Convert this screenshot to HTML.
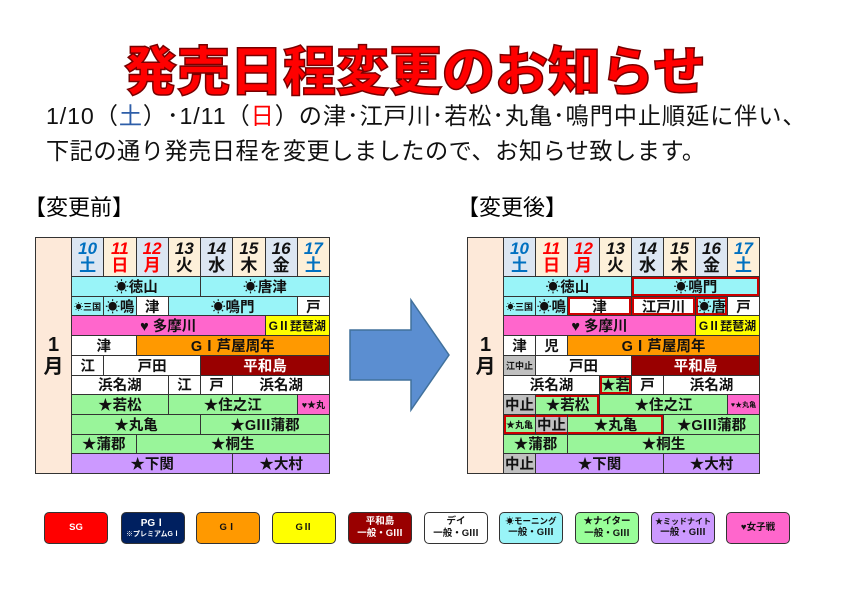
<!DOCTYPE html>
<html><head><meta charset="utf-8"><style>
*{margin:0;padding:0;box-sizing:border-box}
body{width:842px;height:595px;background:#fff;position:relative;overflow:hidden;font-family:"Liberation Sans","Noto Sans CJK JP",sans-serif}
.abs{position:absolute;white-space:nowrap}
.title{left:124px;top:30px;font-size:53px;font-weight:900;color:#f00;-webkit-text-stroke:1.5px #700;font-family:"Liberation Sans","Noto Sans CJK JP",sans-serif}
.txt{font-size:23.2px;color:#111;left:46px}
.tbl{position:absolute;top:237px;height:237px;border:1.5px solid #333;background:#333;display:grid;grid-template-columns:35px repeat(8,1fr);grid-template-rows:38px repeat(10,1fr);gap:1px}
.tbl div{display:flex;align-items:center;justify-content:center;font-weight:bold;font-size:14.5px;color:#111;white-space:nowrap;overflow:hidden}
.m{grid-row:1/12;grid-column:1;background:#fde9d9;flex-direction:column;font-size:20px!important;line-height:1.1}
.h{flex-direction:column;line-height:1}
.h b{font-style:italic;font-size:17px}
.h i{font-style:normal;font-size:17px}
.hb{background:#dce6f2}.hc{background:#fdf0d9}
.c{background:#99f4f8}.w{background:#fff}.p{background:#ff66cc}.y{background:#ff0}.o{background:#ff9900}.d{background:#990000;color:#fff!important}.g{background:#99f59a}.v{background:#cc99ff}.s{background:#c0c0c0}
.r{box-shadow:inset 0 0 0 2px #c00}
.sm{font-size:9px!important}
.bl{color:#0070c0}.rd{color:#f00}
.lg{position:absolute;top:512px;width:64px;height:32px;border:1.5px solid #333;border-radius:5px;display:flex;flex-direction:column;align-items:center;justify-content:center;font-size:9.5px;font-weight:bold;line-height:1.3;color:#111;white-space:nowrap}
</style></head><body>
<div class="abs title">発売日程変更のお知らせ</div>
<div class="abs txt" style="top:97px;letter-spacing:0.9px">1/10（<span style="color:#2e5ea8">土</span>）･1/11（<span style="color:#f00">日</span>）の津･江戸川･若松･丸亀･鳴門中止順延に伴い、</div>
<div class="abs txt" style="top:132px;letter-spacing:0.5px">下記の通り発売日程を変更しましたので、お知らせ致します。</div>
<div class="abs" style="left:24px;top:190px;font-size:22px">【変更前】</div>
<div class="abs" style="left:457px;top:190px;font-size:22px">【変更後】</div>

<div class="tbl" style="left:35px;width:295px">
<div class="m"><span>1</span><span>月</span></div>
<div class="h hb"><b class="bl">10</b><i class="bl">土</i></div>
<div class="h hc"><b class="rd">11</b><i class="rd">日</i></div>
<div class="h hb"><b class="rd">12</b><i class="rd">月</i></div>
<div class="h hc"><b>13</b><i>火</i></div>
<div class="h hb"><b>14</b><i>水</i></div>
<div class="h hc"><b>15</b><i>木</i></div>
<div class="h hb"><b>16</b><i>金</i></div>
<div class="h hc"><b class="bl">17</b><i class="bl">土</i></div>
<div class="c" style="grid-column:2/6">☀徳山</div><div class="c" style="grid-column:6/10">☀唐津</div>
<div class="c sm">☀三国</div><div class="c">☀鳴</div><div class="w">津</div><div class="c" style="grid-column:5/9">☀鳴門</div><div class="w">戸</div>
<div class="p" style="grid-column:2/8">♥ 多摩川</div><div class="y" style="grid-column:8/10;font-size:12px">GⅡ琵琶湖</div>
<div class="w" style="grid-column:2/4">津</div><div class="o" style="grid-column:4/10">GⅠ芦屋周年</div>
<div class="w">江</div><div class="w" style="grid-column:3/6">戸田</div><div class="d" style="grid-column:6/10">平和島</div>
<div class="w" style="grid-column:2/5">浜名湖</div><div class="w">江</div><div class="w">戸</div><div class="w" style="grid-column:7/10">浜名湖</div>
<div class="g" style="grid-column:2/5">★若松</div><div class="g" style="grid-column:5/9">★住之江</div><div class="p sm">♥★丸</div>
<div class="g" style="grid-column:2/6">★丸亀</div><div class="g" style="grid-column:6/10">★GⅢ蒲郡</div>
<div class="g" style="grid-column:2/4">★蒲郡</div><div class="g" style="grid-column:4/10">★桐生</div>
<div class="v" style="grid-column:2/7">★下関</div><div class="v" style="grid-column:7/10">★大村</div>
</div>

<div class="tbl" style="left:467px;width:293px">
<div class="m"><span>1</span><span>月</span></div>
<div class="h hb"><b class="bl">10</b><i class="bl">土</i></div>
<div class="h hc"><b class="rd">11</b><i class="rd">日</i></div>
<div class="h hb"><b class="rd">12</b><i class="rd">月</i></div>
<div class="h hc"><b>13</b><i>火</i></div>
<div class="h hb"><b>14</b><i>水</i></div>
<div class="h hc"><b>15</b><i>木</i></div>
<div class="h hb"><b>16</b><i>金</i></div>
<div class="h hc"><b class="bl">17</b><i class="bl">土</i></div>
<div class="c" style="grid-column:2/6">☀徳山</div><div class="c r" style="grid-column:6/10">☀鳴門</div>
<div class="c sm">☀三国</div><div class="c">☀鳴</div><div class="w r" style="grid-column:4/6">津</div><div class="w r" style="grid-column:6/8">江戸川</div><div class="c r">☀唐</div><div class="w">戸</div>
<div class="p" style="grid-column:2/8">♥ 多摩川</div><div class="y" style="grid-column:8/10;font-size:12px">GⅡ琵琶湖</div>
<div class="w">津</div><div class="w">児</div><div class="o" style="grid-column:4/10">GⅠ芦屋周年</div>
<div class="s sm">江中止</div><div class="w" style="grid-column:3/6">戸田</div><div class="d" style="grid-column:6/10">平和島</div>
<div class="w" style="grid-column:2/5">浜名湖</div><div class="g r">★若</div><div class="w">戸</div><div class="w" style="grid-column:7/10">浜名湖</div>
<div class="s">中止</div><div class="g" style="grid-column:3/5;box-shadow:inset 0 2px 0 #c00,inset -2px 0 0 #c00">★若松</div><div class="g" style="grid-column:5/9">★住之江</div><div class="p" style="font-size:7px!important">♥★丸亀</div>
<div class="g sm" style="box-shadow:inset 2px 2px 0 #c00,inset 0 -2px 0 #c00">★丸亀</div><div class="s" style="box-shadow:inset 0 2px 0 #c00,inset 0 -2px 0 #c00">中止</div><div class="g" style="grid-column:4/7;box-shadow:inset -2px 2px 0 #c00,inset 0 -2px 0 #c00">★丸亀</div><div class="g" style="grid-column:7/10">★GⅢ蒲郡</div>
<div class="g" style="grid-column:2/4">★蒲郡</div><div class="g" style="grid-column:4/10">★桐生</div>
<div class="s">中止</div><div class="v" style="grid-column:3/7">★下関</div><div class="v" style="grid-column:7/10">★大村</div>
</div>

<svg class="abs" style="left:345px;top:296px" width="110" height="118"><polygon points="5,34 66,34 66,4 104,59 66,114 66,84 5,84" fill="#5b8ed1" stroke="#41719c" stroke-width="1.5"/></svg>

<div class="lg" style="left:44px;background:#f00;color:#fff">SG</div>
<div class="lg" style="left:121px;background:#002060;color:#fff"><span style="font-size:10px">PGⅠ</span><span style="font-size:7px">※プレミアムGⅠ</span></div>
<div class="lg" style="left:196px;background:#ff9900">GⅠ</div>
<div class="lg" style="left:272px;background:#ff0">GⅡ</div>
<div class="lg" style="left:348px;background:#990000;color:#fff"><span>平和島</span><span>一般・GⅢ</span></div>
<div class="lg" style="left:424px;background:#fff"><span>デイ</span><span>一般・GⅢ</span></div>
<div class="lg" style="left:499px;background:#99f4f8"><span style="font-size:8.5px">☀モーニング</span><span>一般・GⅢ</span></div>
<div class="lg" style="left:575px;background:#99ff99"><span>★ナイター</span><span>一般・GⅢ</span></div>
<div class="lg" style="left:651px;background:#cc99ff"><span style="font-size:8px">★ミッドナイト</span><span>一般・GⅢ</span></div>
<div class="lg" style="left:726px;background:#ff66cc">♥女子戦</div>
</body></html>
